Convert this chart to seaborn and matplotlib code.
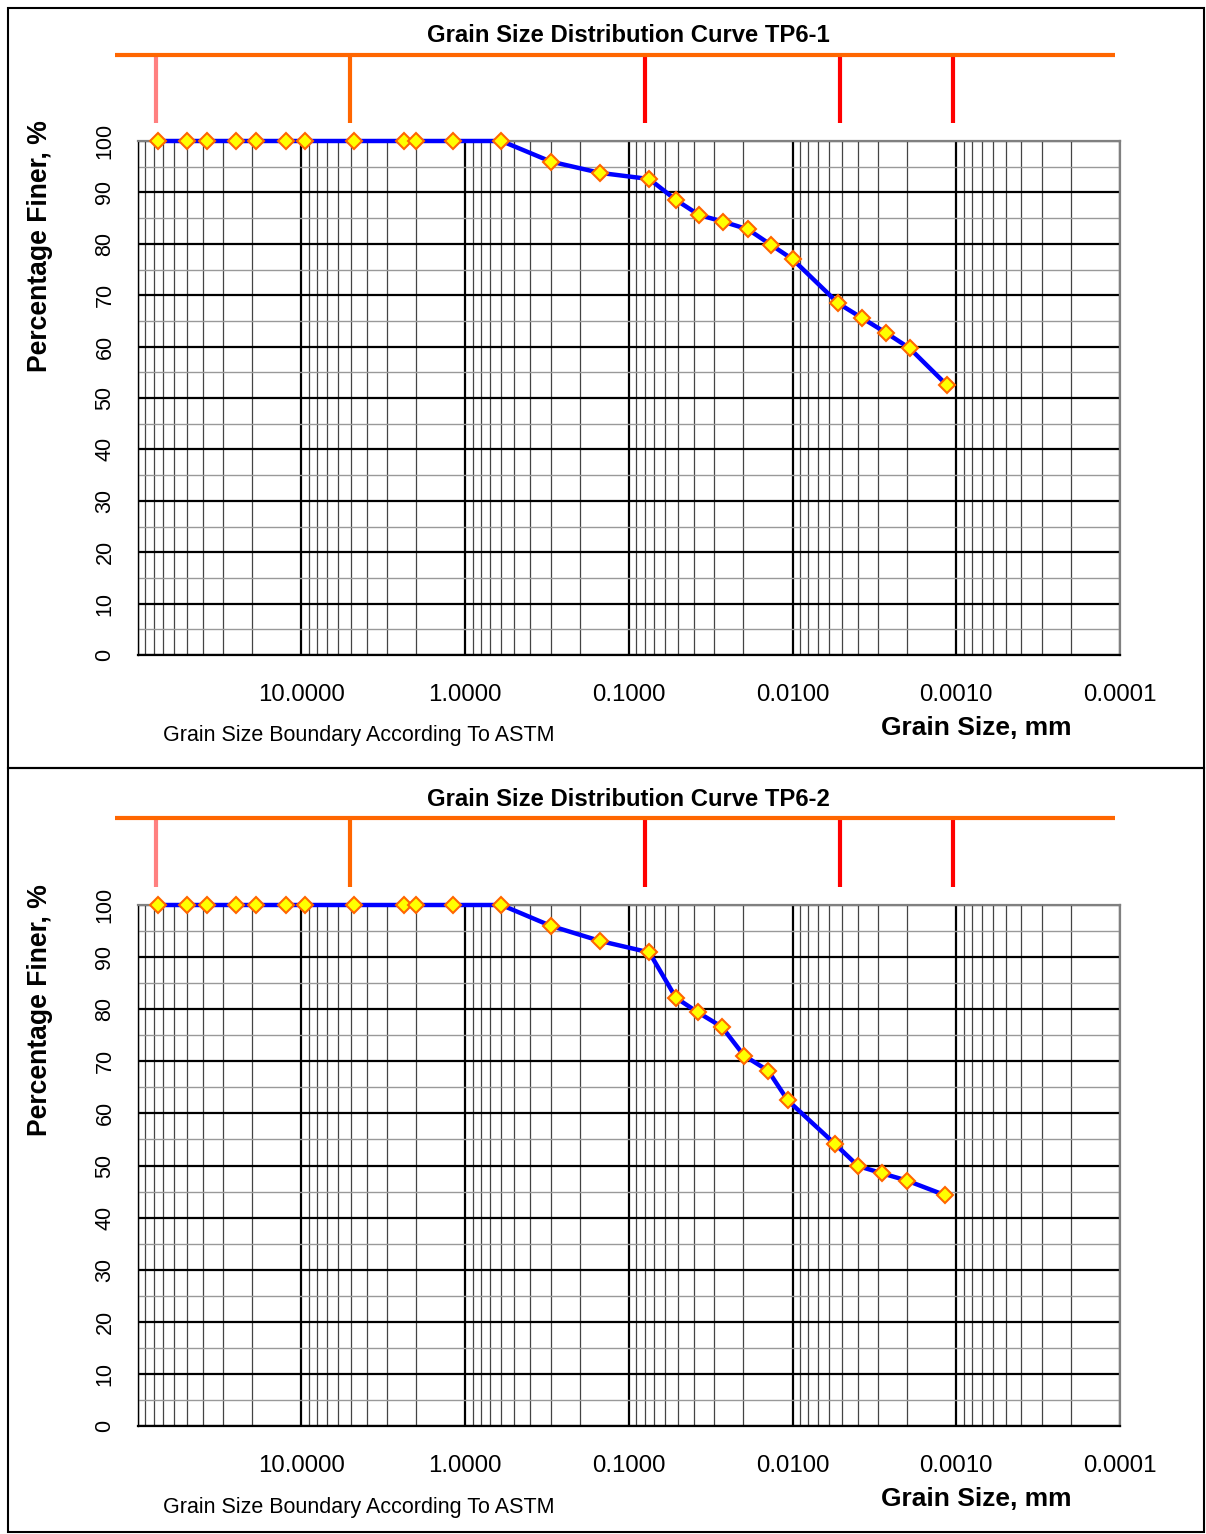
import matplotlib
matplotlib.use('Agg')
import matplotlib.pyplot as plt
import seaborn as sns
from matplotlib.patches import Rectangle

# sieve sizes (mm) shared by both samples
sieve_mm = [75, 50, 37.5, 25, 19, 12.5, 9.5, 4.75, 2.36, 2.0, 1.18, 0.6, 0.3, 0.15, 0.075]

# TP6-1
sieve_pct_1 = [100, 100, 100, 100, 100, 100, 100, 100, 100, 100, 100, 100, 96.0, 93.8, 92.6]
hydro_mm_1 = [0.0514, 0.0372, 0.0265, 0.0187, 0.01355, 0.0100, 0.00525, 0.00374, 0.00269, 0.00193, 0.00114]
hydro_pct_1 = [88.5, 85.6, 84.3, 82.8, 79.8, 77.0, 68.4, 65.5, 62.7, 59.7, 52.5]

# TP6-2
sieve_pct_2 = [100, 100, 100, 100, 100, 100, 100, 100, 100, 100, 100, 100, 96.0, 93.1, 90.9]
hydro_mm_2 = [0.0516, 0.0379, 0.0270, 0.0198, 0.0141, 0.0107, 0.00549, 0.00398, 0.00284, 0.00200, 0.00117]
hydro_pct_2 = [82.2, 79.4, 76.6, 71.1, 68.2, 62.5, 54.1, 49.9, 48.5, 47.1, 44.3]

# ASTM boundary markers above the plot
boundary_mm = [77, 5.07, 0.0796, 0.00513, 0.00105]
boundary_col = ['#FF8080', '#FF6600', '#FF0000', '#FF0000', '#FF0000']
boundary_span = [137.6, 0.000107]

titles = ['Grain Size Distribution Curve TP6-1', 'Grain Size Distribution Curve TP6-2']
decades = [100, 10, 1, 0.1, 0.01, 0.001, 0.0001]

sns.set_style('white')
plt.rcParams['font.family'] = ['Liberation Sans', 'DejaVu Sans']
plt.rcParams['text.color'] = 'black'

W, H = 1206, 1534
fig = plt.figure(figsize=(W / 100, H / 100), dpi=100)


def fx(px):
    return px / W


def fy(py):
    return 1 - py / H


def panel(top, bottom, size, finer, title, box_top, box_bottom):
    ax = fig.add_axes([fx(137.7), fy(bottom), fx(1120) - fx(137.7), (bottom - top) / H])
    sns.lineplot(x=size, y=finer, ax=ax, sort=False, color='#0000FF', linewidth=3.2,
                 marker='D', markersize=8, markerfacecolor='#FFFF00',
                 markeredgecolor='#FF6600', markeredgewidth=1.5, clip_on=False, zorder=5)
    ax.set_xscale('log')
    ax.set_xlim(100, 0.0001)
    ax.set_ylim(0, 100)

    minor = [k * 10.0 ** n for n in range(-4, 2) for k in range(2, 10)]
    ax.set_xticks(decades)
    ax.set_xticklabels(['' if d == 100 else f'{d:.4f}' for d in decades])
    ax.set_xticks(minor, minor=True)
    ax.set_xticklabels([], minor=True)
    ax.set_yticks(range(0, 101, 10))
    ax.set_yticks(range(5, 100, 10), minor=True)

    ax.grid(which='major', axis='both', color='black', linewidth=1.6)
    ax.grid(which='minor', axis='x', color='#444444', linewidth=0.9)
    ax.grid(which='minor', axis='y', color='#999999', linewidth=1.0)
    ax.set_axisbelow(True)

    ax.tick_params(which='minor', length=0)
    ax.tick_params(axis='x', which='major', length=6, width=1, color='#808080',
                   labelcolor='black', labelsize=17.3, pad=15)
    ax.tick_params(axis='y', which='major', length=6, width=1, color='#808080',
                   labelcolor='black', labelsize=15.5, pad=10, labelrotation=90)
    for lbl in ax.get_yticklabels():
        lbl.set_va('center')

    for side, col, lw in [('left', 'black', 1.0), ('bottom', 'black', 1.6),
                          ('top', '#808080', 1.6), ('right', '#808080', 1.6)]:
        ax.spines[side].set_color(col)
        ax.spines[side].set_linewidth(lw)
        ax.spines[side].set_visible(True)

    # boundary bars
    for b, c in zip(boundary_mm, boundary_col):
        ax.plot([b, b], [103.5, 116.7], color=c, linewidth=3, clip_on=False,
                solid_capstyle='butt', zorder=6)
    ax.plot(boundary_span, [116.7, 116.7], color='#FF6600', linewidth=3,
            clip_on=False, solid_capstyle='butt', zorder=7)

    off = top - 141
    fig.text(fx(628.5), fy(36 + off), title, ha='center', va='center',
             fontsize=17.2, fontweight='bold')
    fig.text(fx(40), fy(246 + off), 'Percentage Finer, %', ha='center', va='center',
             rotation=90, fontsize=19.1, fontweight='bold')
    fig.text(fx(359), fy(bottom + 81), 'Grain Size Boundary According To ASTM',
             ha='center', va='center', fontsize=15.5)
    fig.text(fx(976), fy(bottom + 73), 'Grain Size, mm', ha='center', va='center',
             fontsize=19, fontweight='bold')

    fig.add_artist(Rectangle((fx(8), fy(box_bottom)), fx(1204) - fx(8),
                             (box_bottom - box_top) / H, transform=fig.transFigure,
                             fill=False, edgecolor='black', linewidth=1.5))
    return ax


panel(141, 655, sieve_mm + hydro_mm_1, sieve_pct_1 + hydro_pct_1, titles[0], 8, 768)
panel(905, 1426, sieve_mm + hydro_mm_2, sieve_pct_2 + hydro_pct_2, titles[1], 768, 1532)

fig.savefig('out.png', dpi=100, facecolor='white')
